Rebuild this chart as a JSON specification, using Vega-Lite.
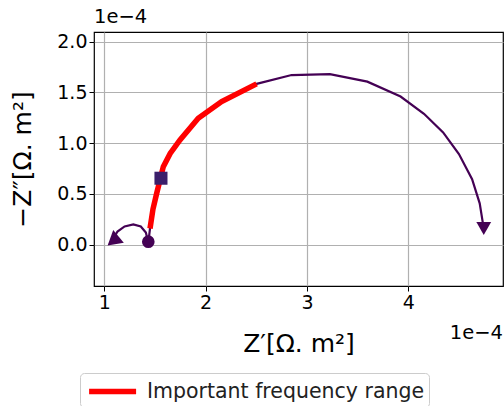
{
  "$schema": "https://vega.github.io/schema/vega-lite/v6.json",
  "autosize": "none",
  "width": 409,
  "height": 254,
  "padding": {"left": 94, "top": 32, "right": 1, "bottom": 120},
  "background": "white",
  "title": {"text": "1e−4", "anchor": "start", "frame": "group", "fontSize": 19.5, "fontWeight": "normal", "font": "DejaVu Sans", "color": "black", "offset": 5},
  "config": {
    "font": "DejaVu Sans",
    "view": {"stroke": "black", "strokeWidth": 1.2},
    "axis": {
      "domain": false,
      "grid": true,
      "gridColor": "#b0b0b0",
      "gridWidth": 1.2,
      "tickColor": "black",
      "tickSize": 5,
      "tickWidth": 1,
      "labelFontSize": 19,
      "labelColor": "black",
      "labelFont": "DejaVu Sans",
      "titleFont": "DejaVu Sans",
      "titleFontSize": 25,
      "titleFontWeight": "normal",
      "titleColor": "black"
    }
  },
  "datasets": {
    "main": [
      {"i": 0, "x": 1.434e-4, "y": 0.02e-4},
      {"i": 1, "x": 1.451e-4, "y": 0.16e-4},
      {"i": 2, "x": 1.48e-4, "y": 0.35e-4},
      {"i": 3, "x": 1.517e-4, "y": 0.507e-4},
      {"i": 4, "x": 1.582e-4, "y": 0.769e-4},
      {"i": 5, "x": 1.65e-4, "y": 0.9e-4},
      {"i": 6, "x": 1.747e-4, "y": 1.033e-4},
      {"i": 7, "x": 1.927e-4, "y": 1.246e-4},
      {"i": 8, "x": 2.158e-4, "y": 1.41e-4},
      {"i": 9, "x": 2.503e-4, "y": 1.585e-4},
      {"i": 10, "x": 2.848e-4, "y": 1.672e-4},
      {"i": 11, "x": 3.226e-4, "y": 1.68e-4},
      {"i": 12, "x": 3.596e-4, "y": 1.607e-4},
      {"i": 13, "x": 3.924e-4, "y": 1.46e-4},
      {"i": 14, "x": 4.155e-4, "y": 1.29e-4},
      {"i": 15, "x": 4.344e-4, "y": 1.107e-4},
      {"i": 16, "x": 4.5e-4, "y": 0.893e-4},
      {"i": 17, "x": 4.63e-4, "y": 0.646e-4},
      {"i": 18, "x": 4.705e-4, "y": 0.408e-4},
      {"i": 19, "x": 4.74e-4, "y": 0.19e-4}
    ],
    "arc": [
      {"i": 0, "x": 1.434e-4, "y": 0.02e-4},
      {"i": 1, "x": 1.41e-4, "y": 0.12e-4},
      {"i": 2, "x": 1.36e-4, "y": 0.18e-4},
      {"i": 3, "x": 1.286e-4, "y": 0.2e-4},
      {"i": 4, "x": 1.2e-4, "y": 0.18e-4},
      {"i": 5, "x": 1.13e-4, "y": 0.13e-4},
      {"i": 6, "x": 1.1e-4, "y": 0.08e-4}
    ],
    "markers": [
      {"kind": "start", "x": 1.434e-4, "y": 0.03e-4},
      {"kind": "mid", "x": 1.559e-4, "y": 0.655e-4},
      {"kind": "endR", "x": 4.745e-4, "y": 0.16e-4},
      {"kind": "endL", "x": 1.1e-4, "y": 0.075e-4}
    ],
    "offset": [{"x": 4.935e-4, "y": -0.407e-4, "label": "1e−4"}]
  },
  "encoding": {
    "x": {
      "field": "x", "type": "quantitative",
      "scale": {"domain": [0.898e-4, 4.935e-4], "nice": false, "zero": false},
      "axis": {"values": [1e-4, 2e-4, 3e-4, 4e-4], "labelExpr": "format(datum.value*1e4, 'd')", "title": "Z′[Ω. m²]", "titlePadding": 19}
    },
    "y": {
      "field": "y", "type": "quantitative",
      "scale": {"domain": [-0.407e-4, 2.096e-4], "nice": false, "zero": false},
      "axis": {"values": [0, 0.5e-4, 1e-4, 1.5e-4, 2e-4], "labelExpr": "format(datum.value*1e4, '.1f')", "title": "−Z″[Ω. m²]", "titlePadding": 21}
    }
  },
  "layer": [
    {
      "data": {"name": "main"},
      "mark": {"type": "line", "color": "#440154", "strokeWidth": 2.2},
      "encoding": {"order": {"field": "i"}}
    },
    {
      "data": {"name": "main"},
      "transform": [{"filter": "datum.i >= 1 && datum.i <= 9"}],
      "mark": {"type": "line", "strokeWidth": 5.5, "strokeCap": "butt"},
      "encoding": {
        "order": {"field": "i"},
        "color": {
          "datum": "Important frequency range",
          "type": "nominal",
          "scale": {"range": ["#ff0000"]},
          "legend": {
            "title": null,
            "orient": "none",
            "legendX": -14,
            "legendY": 341,
            "direction": "vertical",
            "symbolType": "M-0.8,0H3.2",
            "symbolStrokeWidth": 5.5,
            "symbolSize": 552,
            "labelFontSize": 20.5,
            "labelFont": "DejaVu Sans",
            "labelColor": "#222222",
            "labelLimit": 0,
            "labelOffset": 34,
            "strokeColor": "#cccccc",
            "fillColor": "white",
            "cornerRadius": 4,
            "padding": 4
          }
        }
      }
    },
    {
      "data": {"name": "arc"},
      "mark": {"type": "line", "color": "#440154", "strokeWidth": 2.2},
      "encoding": {"order": {"field": "i"}}
    },
    {
      "data": {"name": "markers"},
      "transform": [{"filter": "datum.kind == 'start'"}],
      "mark": {"type": "point", "shape": "circle", "filled": true, "opacity": 1, "color": "#440154", "size": 160}
    },
    {
      "data": {"name": "markers"},
      "transform": [{"filter": "datum.kind == 'mid'"}],
      "mark": {"type": "point", "shape": "square", "filled": true, "opacity": 1, "color": "#3b1f6b", "size": 170}
    },
    {
      "data": {"name": "markers"},
      "transform": [{"filter": "datum.kind == 'endR'"}],
      "mark": {"type": "point", "shape": "triangle-down", "filled": true, "opacity": 1, "color": "#440154", "size": 220}
    },
    {
      "data": {"name": "markers"},
      "transform": [{"filter": "datum.kind == 'endL'"}],
      "mark": {"type": "point", "shape": "triangle-up", "angle": -10, "filled": true, "opacity": 1, "color": "#440154", "size": 270}
    },
    {
      "data": {"name": "offset"},
      "mark": {"type": "text", "align": "right", "baseline": "top", "dy": 38, "fontSize": 19.5, "font": "DejaVu Sans", "color": "black"},
      "encoding": {
        "text": {"field": "label"}
      }
    }
  ]
}
